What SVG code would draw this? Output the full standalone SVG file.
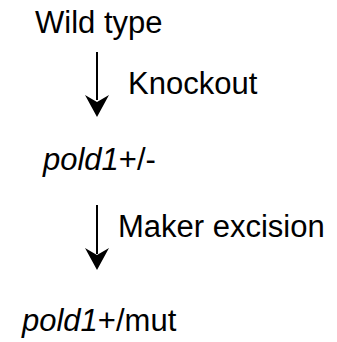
<svg xmlns="http://www.w3.org/2000/svg" width="337" height="342" viewBox="0 0 337 342">
<style>
text{font-family:"Liberation Sans",Arial,sans-serif;font-size:31px;fill:#000}
.i{font-style:italic}
.ln{stroke:#000;stroke-width:2;fill:none}
.ah{fill:#000}
</style>
<rect width="337" height="342" fill="#fff"/>
<g id="wildtype"><text x="35" y="33">Wild type</text></g>
<g id="het"><text x="43" y="170"><tspan class="i">pold1</tspan>+/-</text></g>
<g id="mut"><text x="22" y="331"><tspan class="i">pold1</tspan>+/mut</text></g>
<g id="connectors">
<line class="ln" x1="97" y1="52" x2="97" y2="100"/>
<path class="ah" d="M85,95 L97,102 L109,95 L97,117 Z"/>
<text x="128" y="94">Knockout</text>
<line class="ln" x1="97" y1="205" x2="97" y2="254"/>
<path class="ah" d="M85,248 L97,255 L109,248 L97,270 Z"/>
<text x="118" y="237">Maker excision</text>
</g>
</svg>
